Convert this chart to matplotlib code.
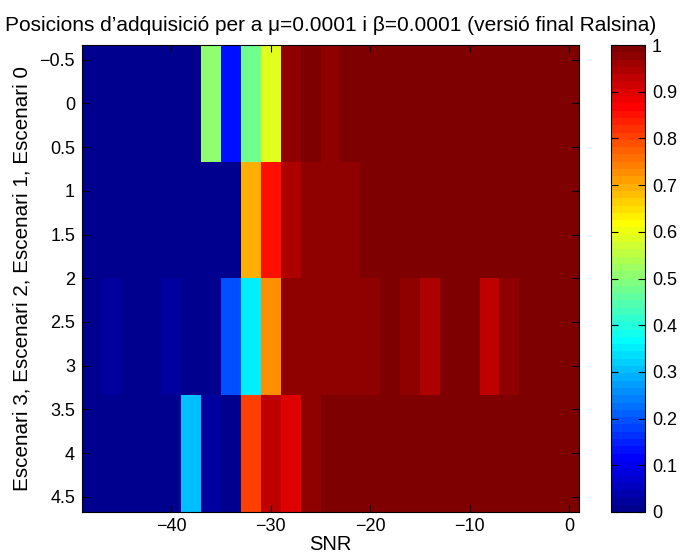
import numpy as np
import matplotlib
matplotlib.use("Agg")
import matplotlib.pyplot as plt
from matplotlib.colors import ListedColormap

plt.rcParams['font.family'] = ['Liberation Sans', 'DejaVu Sans']
plt.rcParams['axes.unicode_minus'] = True

# ---- data ----
snr = list(range(-48, 1, 2))  # column centres (dB)
scenario_ticks = [-0.5, 0, 0.5, 1, 1.5, 2, 2.5, 3, 3.5, 4, 4.5]
scenario_ticklabels = ["\u22120.5", "0", "0.5", "1", "1.5", "2", "2.5", "3", "3.5", "4", "4.5"]
x_ticks = [-40, -30, -20, -10, 0]
x_ticklabels = ["\u221240", "\u221230", "\u221220", "\u221210", "0"]
cbar_ticks = [0, 0.1, 0.2, 0.3, 0.4, 0.5, 0.6, 0.7, 0.8, 0.9, 1]
cbar_ticklabels = ["0", "0.1", "0.2", "0.3", "0.4", "0.5", "0.6", "0.7", "0.8", "0.9", "1"]

escenari0 = [0, 0, 0, 0, 0, 0, 0.5, 0.14, 0.47, 0.58, 0.97, 1, 0.97,
             1, 1, 1, 1, 1, 1, 1, 1, 1, 1, 1, 1]
escenari1 = [0, 0, 0, 0, 0, 0, 0, 0, 0.70, 0.85, 0.95, 0.98, 0.97, 0.98,
             1, 1, 1, 1, 1, 1, 1, 1, 1, 1, 1]
escenari2 = [0, 0.03, 0, 0, 0.03, 0, 0, 0.19, 0.345, 0.72, 0.98, 0.97, 0.97,
             0.97, 0.98, 1, 0.98, 0.95, 1, 1, 0.937, 0.98, 1, 1, 1]
escenari3 = [0, 0, 0, 0, 0, 0.31, 0.03, 0, 0.81, 0.93, 0.905, 0.98, 1,
             1, 1, 1, 1, 1, 1, 1, 1, 1, 1, 1, 1]

title = "Posicions d\u2019adquisici\u00f3 per a \u03bc=0.0001 i \u03b2=0.0001 (versi\u00f3 final Ralsina)"
ylabel = "Escenari 3, Escenari 2, Escenari 1, Escenari 0"
xlabel = "SNR"

# ---- MATLAB jet(64) colormap ----
def matlab_jet(m=64):
    n = int(np.ceil(m / 4))
    u = np.concatenate([np.arange(1, n + 1) / n, np.ones(n - 1), np.arange(n, 0, -1) / n])
    g = int(np.ceil(n / 2)) - (1 if m % 4 == 1 else 0) + np.arange(1, len(u) + 1)
    r = g + n
    b = g - n
    g = g[g <= m]
    r = r[r <= m]
    b = b[b >= 1]
    J = np.zeros((m, 3))
    J[r - 1, 0] = u[:len(r)]
    J[g - 1, 1] = u[:len(g)]
    J[b - 1, 2] = u[len(u) - len(b):]
    return ListedColormap(J)

cmap = matlab_jet(64)

data = np.array([escenari0, escenari1, escenari2, escenari3])
nrows = data.shape[0]
ystep = 4 / (nrows - 1)
xstep = snr[1] - snr[0]

fig = plt.figure(figsize=(6.94, 5.59), dpi=100)
ax = fig.add_axes([82 / 694, 1 - 511.5 / 559, 497 / 694, 466.5 / 559])
cax = fig.add_axes([611 / 694, 1 - 512 / 559, 34 / 694, 467 / 559])

im = ax.imshow(data, cmap=cmap, vmin=0, vmax=1, aspect='auto', interpolation='nearest',
               extent=[snr[0] - xstep / 2, snr[-1] + xstep / 2, 4 + ystep / 2, 0 - ystep / 2])

ax.set_xticks(x_ticks)
ax.set_xticklabels(x_ticklabels)
ax.set_yticks(scenario_ticks)
ax.set_yticklabels(scenario_ticklabels)
ax.tick_params(direction='in', top=True, right=True, labelsize=13, length=5, width=0.8, pad=5)
ax.set_xlabel(xlabel, fontsize=14.5, labelpad=0)
ax.set_ylabel(ylabel, fontsize=14.9, labelpad=6)
ax.set_title(title, fontsize=15, pad=10)
for s in ax.spines.values():
    s.set_linewidth(0.8)

cb = fig.colorbar(im, cax=cax, ticks=cbar_ticks)
cb.ax.set_yticklabels(cbar_ticklabels)
cb.ax.tick_params(direction='in', left=True, right=True, labelsize=13, length=5, width=0.8, pad=5)
cb.outline.set_linewidth(0.8)

fig.savefig("out.png", dpi=100)
